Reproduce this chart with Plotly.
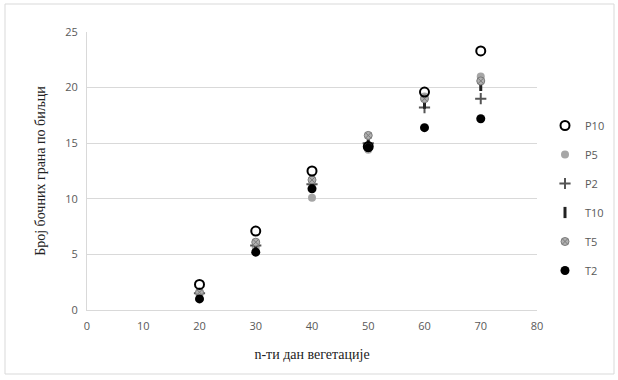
import plotly.graph_objects as go

days = [20, 30, 40, 50, 60, 70]
series_names = ["P10", "P5", "P2", "T10", "T5", "T2"]
P10 = [2.3, 7.1, 12.5, 14.7, 19.6, 23.3]
P5 = [1.4, 5.6, 10.1, 14.4, 19.2, 21.0]
P2 = [1.5, 5.8, 11.3, 15.0, 18.2, 19.0]
T10 = [1.3, 5.5, 11.5, 14.9, 18.6, 20.2]
T5 = [1.6, 6.1, 11.7, 15.7, 19.0, 20.6]
T2 = [1.0, 5.2, 10.9, 14.6, 16.4, 17.2]

styles = {
    "P10": dict(symbol="circle-open", size=9, color="black", line=dict(width=2, color="black")),
    "P5": dict(symbol="circle", size=8, color="#a6a6a6", line=dict(width=0)),
    "P2": dict(symbol="cross-thin-open", size=8, color="#555555", line=dict(width=2, color="#555555")),
    "T10": dict(symbol="line-ns-open", size=8, color="#222222", line=dict(width=3, color="#222222")),
    "T5": dict(symbol="circle-x", size=8, color="#b0b0b0", line=dict(width=1, color="#7a7a7a")),
    "T2": dict(symbol="circle", size=9, color="black", line=dict(width=0)),
}
data = {"P10": P10, "P5": P5, "P2": P2, "T10": T10, "T5": T5, "T2": T2}
order = ["P10", "P5", "P2", "T10", "T5", "T2"]
draw_order = ["P5", "P2", "T10", "T5", "P10", "T2"]

fig = go.Figure()
for name in draw_order:
    fig.add_trace(go.Scatter(
        x=days, y=data[name], mode="markers", name=name,
        legendgroup=name, legendrank=order.index(name) + 1,
        marker=styles[name], showlegend=True,
    ))

L, R, T, B = 87, 81, 32, 70
W, H = 618, 380
pw, ph = W - L - R, H - T - B

fig.update_layout(
    width=W, height=H,
    margin=dict(l=L, r=R, t=T, b=B, autoexpand=False),
    paper_bgcolor="white", plot_bgcolor="white",
    font=dict(family="Open Sans, Liberation Sans, sans-serif", size=11, color="#595959"),
    legend=dict(
        x=(545 - L) / pw, y=(H - 111 - B) / ph, xanchor="left", yanchor="top",
        tracegroupgap=10, traceorder="grouped", itemwidth=30,
        font=dict(size=11, color="#595959"), bgcolor="rgba(0,0,0,0)",
    ),
    xaxis=dict(
        range=[0, 80], tickvals=[0, 10, 20, 30, 40, 50, 60, 70, 80],
        showgrid=False, zeroline=False, showline=True, linecolor="#d9d9d9", linewidth=1,
        ticks="", tickfont=dict(size=11, color="#595959"), ticklabelstandoff=6,
        title=dict(text="n-ти дан вегетације", font=dict(family="Liberation Serif, Times New Roman, serif", size=14, color="#222222"), standoff=16),
    ),
    yaxis=dict(
        range=[0, 25], tickvals=[0, 5, 10, 15, 20, 25],
        showgrid=True, gridcolor="#d9d9d9", gridwidth=1, zeroline=False,
        showline=True, linecolor="#d9d9d9", linewidth=1,
        ticks="", tickfont=dict(size=11, color="#595959"), ticklabelstandoff=6,
        title=dict(text="Број бочних грана по биљци", font=dict(family="Liberation Serif, Times New Roman, serif", size=14, color="#222222"), standoff=16),
    ),
    shapes=[dict(
        type="rect", xref="paper", yref="paper",
        x0=(5 - L) / pw, x1=(W - 4 - L) / pw, y0=(H - 374 - B) / ph, y1=(H - 4 - B) / ph,
        line=dict(color="#d9d9d9", width=1), fillcolor="rgba(0,0,0,0)", layer="below",
    )],
)

fig.write_html("out.html")
